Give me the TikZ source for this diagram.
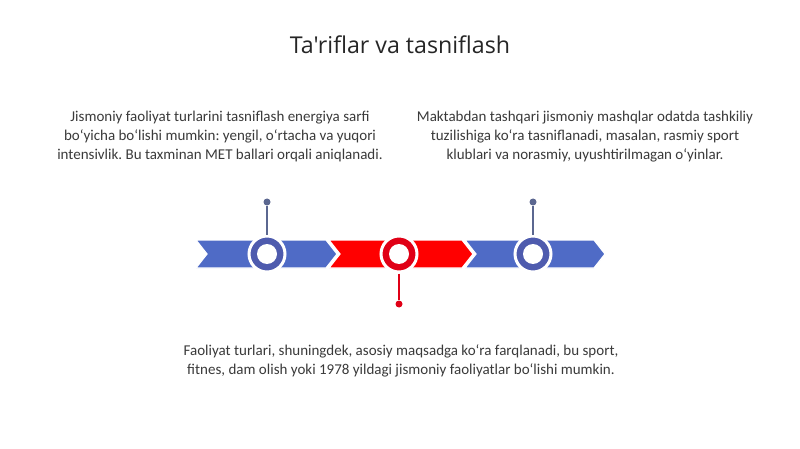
\documentclass[tikz,border=0pt]{standalone}
\usepackage{fontspec}
\setmainfont{Carlito}
\newfontfamily\ttlfont{Open Sans}
\frenchspacing
\definecolor{segblue}{HTML}{4F6BC6}
\definecolor{ringblue}{HTML}{4E5BAE}
\definecolor{segred}{HTML}{FF0000}
\definecolor{ringred}{HTML}{E00016}
\definecolor{pinblue}{HTML}{5B6790}
\definecolor{txt}{HTML}{3A3A3A}
\definecolor{ttl}{HTML}{262626}
\tikzset{
  seg/.style={draw=white, line width=1.2pt},
  ring/.style={circle, draw=white, line width=3pt, minimum size=36pt, inner sep=0pt},
  ringin/.style={circle, fill=white, minimum size=20pt, inner sep=0pt},
  pindot/.style={circle, inner sep=0pt, minimum size=7pt},
  body/.style={text=txt, font=\fontsize{15}{19}\selectfont, align=center},
}
\begin{document}
\begin{tikzpicture}[x=1pt,y=-1pt]
\useasboundingbox (0,0) rectangle (800,449);
\fill[white] (0,0) rectangle (800,449);
% title
\node[text=ttl, font=\ttlfont\fontsize{23.2}{28}\selectfont] (title) at (400,45) {Ta'riflar va tasniflash};
% chevrons
\draw[seg, fill=segred] (329,240) -- (462,240) -- (473,254) -- (462,268) -- (329,268) -- (340,254) -- cycle;
\draw[seg, fill=segblue] (465,240) -- (594,240) -- (605,254) -- (594,268) -- (465,268) -- (476,254) -- cycle;
\draw[seg, fill=segblue] (196,240) -- (326,240) -- (337,254) -- (326,268) -- (196,268) -- (207,254) -- cycle;
% rings
\node[ring, fill=ringblue] (c1) at (267,254) {};
\node[ringin] at (c1) {};
\node[ring, fill=ringred] (c2) at (399,254) {};
\node[ringin] at (c2) {};
\node[ring, fill=ringblue] (c3) at (533,254) {};
\node[ringin] at (c3) {};
% pins
\node[pindot, fill=pinblue] (p1) at (267,202) {};
\node[pindot, fill=pinblue] (p3) at (533,202) {};
\node[pindot, fill=ringred] (p2) at (399,304) {};
\draw[pinblue, line width=1.3pt] (p1) -- (c1.north);
\draw[pinblue, line width=1.3pt] (p3) -- (c3.north);
\draw[ringred, line width=1.3pt] (c2.south) -- (p2);
% texts
\node[body] (t1) at (220,137) {Jismoniy faoliyat turlarini tasniflash energiya sarfi\\boʻyicha boʻlishi mumkin: yengil, oʻrtacha va yuqori\\intensivlik. Bu taxminan MET ballari orqali aniqlanadi.};
\node[body] (t3) at (585,137) {Maktabdan tashqari jismoniy mashqlar odatda tashkiliy\\tuzilishiga koʻra tasniflanadi, masalan, rasmiy sport\\klublari va norasmiy, uyushtirilmagan oʻyinlar.};
\node[body] (t2) at (401,361) {Faoliyat turlari, shuningdek, asosiy maqsadga koʻra farqlanadi, bu sport,\\fitnes, dam olish yoki 1978 yildagi jismoniy faoliyatlar boʻlishi mumkin.};
\end{tikzpicture}
\end{document}
